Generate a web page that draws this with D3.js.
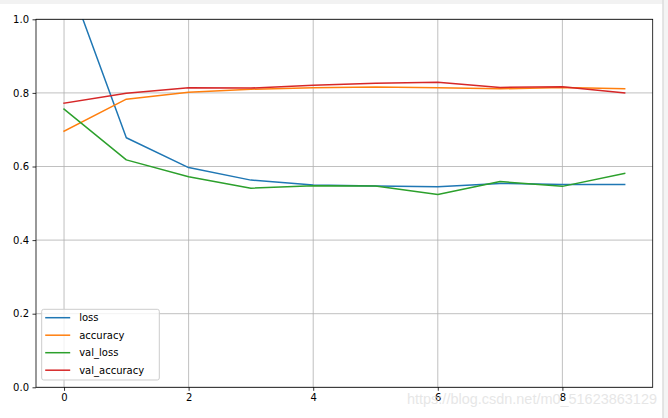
<!DOCTYPE html>
<html>
<head>
<meta charset="utf-8">
<script src="https://cdn.jsdelivr.net/npm/d3@7"></script>
<style>
html,body{margin:0;padding:0;background:#fff;}
svg{display:block;font-family:"DejaVu Sans",sans-serif;}
</style>
</head>
<body>
<svg id="chart" width="668" height="418"></svg>
<script>
const epochs = [0,1,2,3,4,5,6,7,8,9];
const loss = [1.14,0.678,0.597,0.563,0.550,0.547,0.545,0.554,0.551,0.551];
const accuracy = [0.696,0.783,0.802,0.810,0.814,0.816,0.814,0.811,0.815,0.811];
const valLoss = [0.756,0.618,0.572,0.541,0.548,0.547,0.524,0.559,0.546,0.581];
const valAccuracy = [0.772,0.799,0.814,0.813,0.821,0.826,0.829,0.815,0.817,0.800];
const seriesNames = ["loss","accuracy","val_loss","val_accuracy"];
const seriesColors = ["#1f77b4","#ff7f0e","#2ca02c","#d62728"];
const xTicks = [0,2,4,6,8];
const yTicks = [0,0.2,0.4,0.6,0.8,1.0];
const watermark = "https://blog.csdn.net/m0_51623863129";

const allSeries = [loss, accuracy, valLoss, valAccuracy];
const svg = d3.select("#chart");
const L = 36, R = 652.7, T = 19.3, B = 387.3;

// outer frame decorations
svg.append("rect").attr("x",0).attr("y",0).attr("width",668).attr("height",4).attr("fill","#f2f2f2");
svg.append("rect").attr("x",662.5).attr("y",0).attr("width",5.5).attr("height",418).attr("fill","#f4f4f4");
svg.append("line").attr("x1",663).attr("x2",663).attr("y1",0).attr("y2",418).attr("stroke","#d0d0d0").attr("stroke-width",1);

const x = d3.scaleLinear().domain([-0.45, 9.45]).range([L, R]);
const y = d3.scaleLinear().domain([0, 1]).range([B, T]);

// grid
const g = svg.append("g");
g.selectAll(".gx").data(xTicks).enter().append("line")
  .attr("x1",d=>x(d)).attr("x2",d=>x(d)).attr("y1",T).attr("y2",B)
  .attr("stroke","#b0b0b0").attr("stroke-width",0.8);
g.selectAll(".gy").data(yTicks).enter().append("line")
  .attr("x1",L).attr("x2",R).attr("y1",d=>y(d)).attr("y2",d=>y(d))
  .attr("stroke","#b0b0b0").attr("stroke-width",0.8);

// clip
svg.append("clipPath").attr("id","clip").append("rect")
  .attr("x",L).attr("y",T).attr("width",R-L).attr("height",B-T);

const line = d3.line().x((d,i)=>x(epochs[i])).y(d=>y(d));
svg.append("g").attr("clip-path","url(#clip)")
  .selectAll("path").data(allSeries).enter().append("path")
  .attr("d",d=>line(d)).attr("fill","none")
  .attr("stroke",(d,i)=>seriesColors[i]).attr("stroke-width",1.5)
  .attr("stroke-linejoin","round").attr("stroke-linecap","square");

// axes
const xAxis = d3.axisBottom(x).tickValues(xTicks).tickFormat(d3.format("d")).tickSize(3.5).tickPadding(3.5);
const yAxis = d3.axisLeft(y).tickValues(yTicks).tickFormat(d3.format(".1f")).tickSize(3.5).tickPadding(3.5);
const ax = svg.append("g").attr("transform",`translate(0,${B})`).call(xAxis);
const ay = svg.append("g").attr("transform",`translate(${L},0)`).call(yAxis);
[ax,ay].forEach(a=>{
  a.select(".domain").remove();
  a.selectAll("line").attr("stroke","#000").attr("stroke-width",0.8);
  a.selectAll("text").attr("fill","#000").style("font-size","10px").style("font-family","DejaVu Sans");
});

// spines
svg.append("rect").attr("x",L).attr("y",T).attr("width",R-L).attr("height",B-T)
  .attr("fill","none").attr("stroke","#000").attr("stroke-width",0.8);

// legend
const lg = svg.append("g").attr("transform","translate(41.7,309.3)");
lg.append("rect").attr("width",117.6).attr("height",70.7).attr("rx",2).attr("ry",2)
  .attr("fill","#fff").attr("fill-opacity",0.8).attr("stroke","#cccccc").attr("stroke-width",1);
const items = lg.selectAll(".it").data(seriesNames).enter().append("g")
  .attr("transform",(d,i)=>`translate(0,${8.4 + i*17.5})`);
items.append("line").attr("x1",3.5).attr("x2",28.5).attr("y1",0).attr("y2",0)
  .attr("stroke",(d,i)=>seriesColors[i]).attr("stroke-width",1.5);
items.append("text").attr("x",37.5).attr("y",0).attr("dy","0.35em")
  .style("font-size","10px").attr("fill","#000").text(d=>d);

// watermark
svg.append("text").attr("x",407).attr("y",404)
  .attr("textLength",250).attr("lengthAdjust","spacingAndGlyphs")
  .style("font-family","Liberation Sans, Arial, sans-serif").style("font-size","15px")
  .attr("fill","#e2e2e2").attr("fill-opacity",0.85).text(watermark);
</script>
</body>
</html>
